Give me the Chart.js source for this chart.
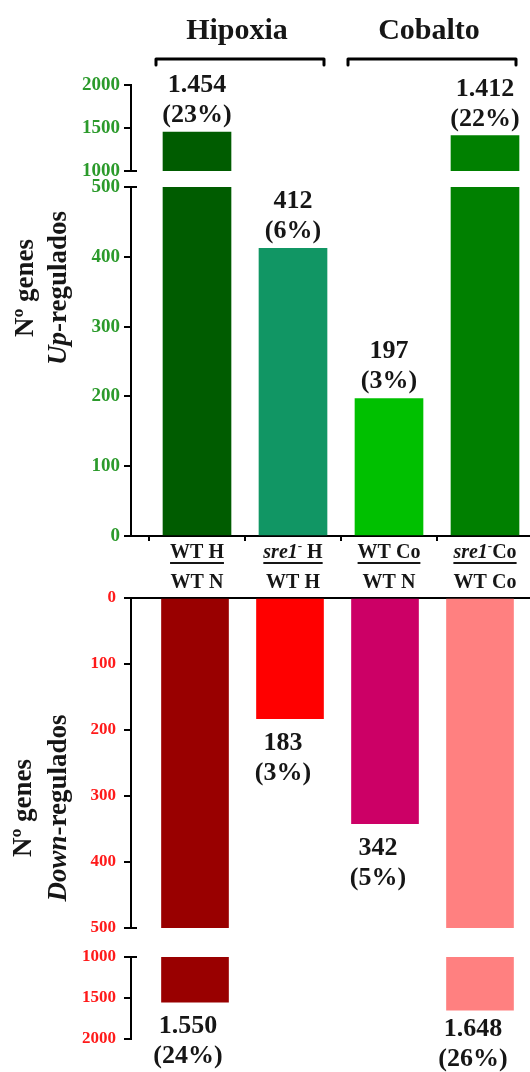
<!DOCTYPE html>
<html><head><meta charset="utf-8">
<script src="https://cdn.jsdelivr.net/npm/chart.js@4.4.1/dist/chart.umd.min.js"></script>
<style>
html,body{margin:0;padding:0;background:#fff;}
#wrap{position:relative;width:530px;height:1072px;overflow:hidden;background:#fff;}
.c{position:absolute;left:0;width:530px;}
</style></head><body>
<div id="wrap">
<div class="c" style="top:0;height:191px"><canvas id="upHigh"></canvas></div>
<div class="c" style="top:167px;height:428px"><canvas id="upLow"></canvas></div>
<div class="c" style="top:578px;height:370px"><canvas id="downLow"></canvas></div>
<div class="c" style="top:937px;height:135px"><canvas id="downHigh"></canvas></div>
</div>
<script>
// ---- data ----
const categoriesTop = ['WT H', '<i>sre1</i><sup>-</sup> H', 'WT Co', '<i>sre1</i><sup>-</sup>Co'];
const categoriesBottom = ['WT N', 'WT H', 'WT N', 'WT Co'];
const groupLabels = ['Hipoxia', 'Cobalto'];
const groupSpans = [[0, 1], [2, 3]];
const upValues = [1454, 412, 197, 1412];
const upPercents = [23, 6, 3, 22];
const downValues = [1550, 183, 342, 1648];
const downPercents = [24, 3, 5, 26];
const upColors = ['#005c00', '#119664', '#00c000', '#008000'];
const downColors = ['#990000', '#ff0000', '#cc0066', '#ff8080'];
const upHighTicks = [1000, 1500, 2000];
const upLowTicks = [0, 100, 200, 300, 400, 500];
const downLowTicks = [0, 100, 200, 300, 400, 500];
const downHighTicks = [1000, 1500, 2000];
const yTitleUp = ['Nº genes', '<i>Up</i>-regulados'];
const yTitleDown = ['Nº genes', '<i>Down</i>-regulados'];

// ---- helpers ----
const SERIF = "'Liberation Serif','Times New Roman',serif";
function fmt(v) { return String(v).replace(/\B(?=(\d{3})+(?!\d))/g, '.'); }
function parseRich(s) {
  const parts = []; const re = /<(i|sup)>(.*?)<\/\1>|([^<]+)/g; let m;
  while ((m = re.exec(s))) {
    if (m[3] !== undefined) parts.push({ t: m[3] });
    else parts.push({ t: m[2], i: m[1] === 'i', sup: m[1] === 'sup' });
  }
  return parts;
}
function fontFor(p, size) {
  if (p.sup) return 'bold ' + Math.round(size * 0.65) + 'px ' + SERIF;
  return (p.i ? 'italic ' : '') + 'bold ' + size + 'px ' + SERIF;
}
function drawRich(ctx, s, cx, by, size) {
  const parts = parseRich(s);
  let w = 0;
  for (const p of parts) { ctx.font = fontFor(p, size); w += ctx.measureText(p.t).width; }
  let x = cx - w / 2;
  ctx.textAlign = 'left'; ctx.textBaseline = 'alphabetic';
  for (const p of parts) {
    ctx.font = fontFor(p, size);
    ctx.fillText(p.t, x, p.sup ? by - size * 0.42 : by);
    x += ctx.measureText(p.t).width;
  }
  return { left: cx - w / 2, right: cx + w / 2 };
}

function valueLabelPlugin(values, percents, dir) {
  return {
    id: 'vlab',
    afterDatasetsDraw(chart) {
      const { ctx, scales: { x, y } } = chart;
      ctx.save(); ctx.fillStyle = '#161616';
      values.forEach((v, i) => {
        if (!(v > y.min && v <= y.max)) return;
        const py = y.getPixelForValue(v);
        const cx = x.getPixelForValue(i) + (dir === 'up' ? 0 : -7);
        const l1 = fmt(v), l2 = '(' + percents[i] + '%)';
        if (dir === 'up') { drawRich(ctx, l1, cx, py - 40, 26); drawRich(ctx, l2, cx, py - 10, 26); }
        else {
          const b2 = Math.min(py + 61, chart.height - 6);
          drawRich(ctx, l1, cx, b2 - 30, 26); drawRich(ctx, l2, cx, b2, 26);
        }
      });
      ctx.restore();
    }
  };
}
function breakCapPlugin(where) {
  return {
    id: 'bcap',
    afterDraw(chart) {
      const { ctx, chartArea: a } = chart;
      ctx.save(); ctx.strokeStyle = '#000'; ctx.lineWidth = 2;
      const yy = where === 'top' ? a.top : a.bottom;
      ctx.beginPath(); ctx.moveTo(a.left - 7, yy); ctx.lineTo(a.left + 6, yy); ctx.stroke();
      ctx.restore();
    }
  };
}
function yTitlePlugin(lines, xBase, yCenter) {
  return {
    id: 'ytitle',
    afterDraw(chart) {
      const ctx = chart.ctx;
      ctx.save(); ctx.fillStyle = '#161616';
      lines.forEach((s, k) => {
        ctx.save(); ctx.translate(xBase[k], yCenter); ctx.rotate(-Math.PI / 2);
        drawRich(ctx, s, 0, 0, 27); ctx.restore();
      });
      ctx.restore();
    }
  };
}
const groupPlugin = {
  id: 'groups',
  afterDraw(chart) {
    const { ctx, scales: { x } } = chart;
    ctx.save(); ctx.fillStyle = '#161616'; ctx.strokeStyle = '#000';
    ctx.lineWidth = 3; ctx.lineJoin = 'round'; ctx.lineCap = 'round';
    groupSpans.forEach((sp, g) => {
      const x1 = x.getPixelForValue(sp[0]) - 41, x2 = x.getPixelForValue(sp[1]) + 31;
      ctx.beginPath(); ctx.moveTo(x1, 65); ctx.lineTo(x1, 59); ctx.lineTo(x2, 59); ctx.lineTo(x2, 65); ctx.stroke();
      drawRich(ctx, groupLabels[g], (x1 + x2) / 2 - 3, 39, 30);
    });
    ctx.restore();
  }
};
const xLabelPlugin = {
  id: 'xlabels',
  afterDraw(chart) {
    const { ctx, chartArea: a, scales: { x } } = chart;
    ctx.save(); ctx.fillStyle = '#161616'; ctx.strokeStyle = '#161616'; ctx.lineWidth = 2;
    categoriesTop.forEach((s, i) => {
      const cx = x.getPixelForValue(i);
      const r = drawRich(ctx, s, cx, a.bottom + 22, 20);
      ctx.beginPath(); ctx.moveTo(r.left, a.bottom + 27); ctx.lineTo(r.right, a.bottom + 27); ctx.stroke();
      drawRich(ctx, categoriesBottom[i], cx, a.bottom + 52, 20);
    });
    ctx.restore();
  }
};

function zeroPad(s) { s.paddingTop = 0; s.paddingBottom = 0; s.paddingLeft = 0; s.paddingRight = 0; }

function makeChart(id, c) {
  return new Chart(document.getElementById(id), {
    type: 'bar',
    data: { datasets: [{ data: c.values.map((v, i) => ({ x: i, y: v })), backgroundColor: c.colors, barThickness: c.barW, clip: 0, borderWidth: 0 }] },
    options: {
      responsive: true, maintainAspectRatio: false, animation: false,
      layout: { autoPadding: false, padding: { top: c.padTop, bottom: c.padBottom, left: 0, right: 0 } },
      plugins: { legend: { display: false }, tooltip: { enabled: false }, title: { display: false } },
      scales: {
        x: {
          type: 'linear', min: c.xRange[0], max: c.xRange[1], offset: false,
          position: c.xMode === 'top' ? 'top' : 'bottom', display: c.xMode !== 'none',
          afterBuildTicks: s => { s.ticks = c.values.map((_, i) => ({ value: i })); },
          afterFit: s => { s.height = c.xHeight || 0; zeroPad(s); },
          ticks: { display: false },
          grid: { drawOnChartArea: false, drawTicks: c.xMode === 'bottom', tickLength: 5, color: '#000', lineWidth: 2 },
          border: { display: true, color: '#000', width: 2 }
        },
        y: {
          type: 'linear', min: c.yMin, max: c.yMax, reverse: !!c.reverse,
          afterBuildTicks: s => { s.ticks = c.yTicks.map(v => ({ value: v })); },
          afterFit: s => { s.width = 131; zeroPad(s); },
          ticks: { color: c.tickColor, font: { family: SERIF, weight: 'bold', size: c.tickSize }, padding: c.tickPad, callback: v => String(v) },
          grid: { drawOnChartArea: false, drawTicks: true, tickLength: 7, color: '#000', lineWidth: 2 },
          border: { display: true, color: '#000', width: 2 }
        }
      }
    },
    plugins: c.plugins
  });
}

const upX = [-0.6875, 3.46875];
const downX = [-0.6737, 3.5263];
const GREEN = '#2b9a2b', RED = '#ff1a1a';

// canvas tops: A 0, B 167, C 578, D 937
makeChart('upHigh', { values: upValues, colors: upColors, barW: 68, padTop: 85, padBottom: 20, xMode: 'none', xRange: upX,
  yMin: 1000, yMax: 2000, yTicks: upHighTicks, tickColor: GREEN, tickSize: 19, tickPad: 4,
  plugins: [valueLabelPlugin(upValues, upPercents, 'up'), breakCapPlugin('bottom'), groupPlugin] });

makeChart('upLow', { values: upValues, colors: upColors, barW: 68, padTop: 20, padBottom: 0, xMode: 'bottom', xHeight: 59, xRange: upX,
  yMin: 0, yMax: 500, yTicks: upLowTicks, tickColor: GREEN, tickSize: 19, tickPad: 4,
  plugins: [valueLabelPlugin(upValues, upPercents, 'up'), breakCapPlugin('top'), xLabelPlugin, yTitlePlugin(yTitleUp, [33, 66], 288 - 167)] });

makeChart('downLow', { values: downValues, colors: downColors, barW: 67, padTop: 20, padBottom: 20, xMode: 'top', xHeight: 0, xRange: downX,
  yMin: 0, yMax: 500, yTicks: downLowTicks, reverse: true, tickColor: RED, tickSize: 17, tickPad: 8,
  plugins: [valueLabelPlugin(downValues, downPercents, 'down'), breakCapPlugin('bottom'), yTitlePlugin(yTitleDown, [31, 66], 808 - 578)] });

makeChart('downHigh', { values: downValues, colors: downColors, barW: 67, padTop: 20, padBottom: 33, xMode: 'none', xRange: downX,
  yMin: 1000, yMax: 2000, yTicks: downHighTicks, reverse: true, tickColor: RED, tickSize: 17, tickPad: 8,
  plugins: [valueLabelPlugin(downValues, downPercents, 'down'), breakCapPlugin('top')] });
</script>
</body></html>
